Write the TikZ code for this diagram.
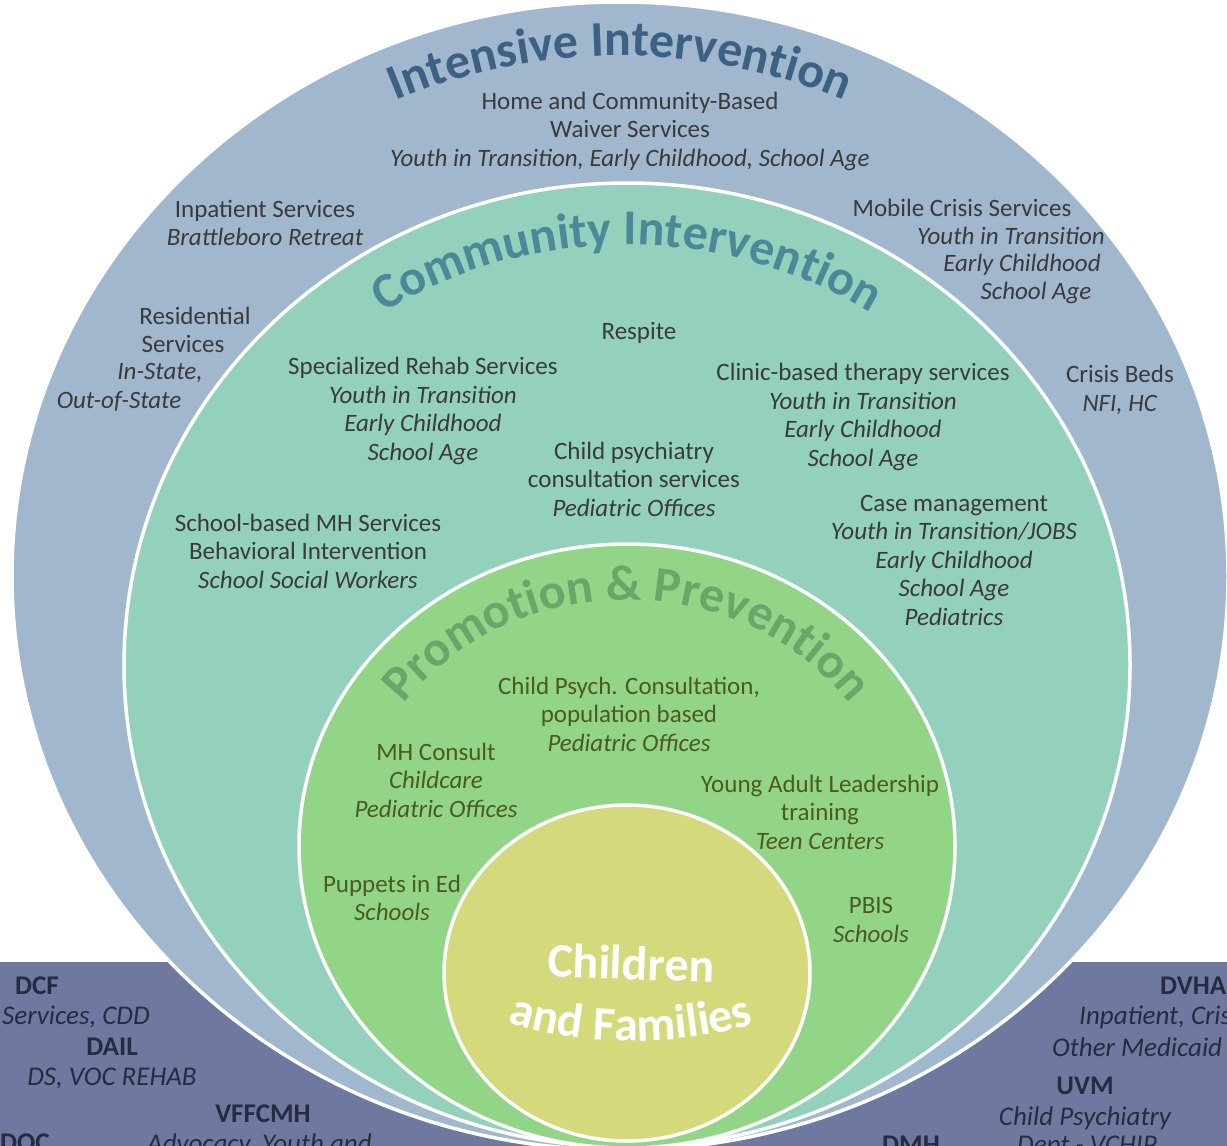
\documentclass[tikz,border=0pt]{standalone}
\usepackage{fontspec}
\setmainfont{Carlito}
\usetikzlibrary{decorations.text}
\definecolor{bandc}{HTML}{6F789F}
\definecolor{outerc}{HTML}{A1B7CE}
\definecolor{commc}{HTML}{93D1BC}
\definecolor{promc}{HTML}{92D587}
\definecolor{childc}{HTML}{D4DA7C}
\definecolor{txtc}{HTML}{3A3A3A}
\definecolor{greentxt}{HTML}{4B5A22}
\definecolor{bandtxt}{HTML}{262B40}
\definecolor{intc}{HTML}{3D6184}
\definecolor{comtc}{HTML}{4C8898}
\definecolor{promtc}{HTML}{6AA56A}
\begin{document}
\begin{tikzpicture}[x=1pt,y=-1pt,
 ring/.style={draw=white, line width=3.5pt},
 lbl/.style={inner sep=0pt, align=center, text=txtc, font=\fontsize{25}{28.5}\selectfont},
 lbli/.style={lbl, font=\fontsize{25}{28.5}\selectfont\itshape},
 glbl/.style={lbl, text=greentxt},
 blbl/.style={inner sep=0pt, text=bandtxt, font=\fontsize{27}{31}\selectfont\bfseries},
 blbli/.style={inner sep=0pt, text=bandtxt, font=\fontsize{27}{31}\selectfont\itshape},
]
\useasboundingbox (0,0) rectangle (1227,1146);
\begin{scope}
\clip (0,0) rectangle (1227,1146);
\fill[white] (0,0) rectangle (1227,1146);
\fill[bandc] (0,962) rectangle (1227,1160);
\draw[ring, fill=outerc] (620,576) ellipse [x radius=608pt, y radius=574pt];
\draw[ring, fill=commc] (627,665) ellipse [x radius=503pt, y radius=482pt];
\draw[ring, fill=promc] (627,846) ellipse [x radius=328pt, y radius=302pt];
\draw[ring, fill=childc] (627,973) ellipse [x radius=183pt, y radius=168pt];

% titles
\path[decorate, decoration={text along path, text align=center,
  text={|\fontsize{50}{50}\selectfont\bfseries\color{intc}|Intensive Intervention}}]
  (620,576) ++(165:553pt and 520pt) arc[start angle=165, end angle=15, x radius=553pt, y radius=520pt];
\path[decorate, decoration={text along path, text align=center,
  text={|\fontsize{50}{50}\selectfont\bfseries\color{comtc}|Community Intervention}}]
  (627,665) ++(170:447pt and 420pt) arc[start angle=170, end angle=10, x radius=447pt, y radius=420pt];
\path[decorate, decoration={text along path, text align=center,
  text={|\fontsize{50}{50}\selectfont\bfseries\color{promtc}|Promotion {\&} Prevention}}]
  (627,846) ++(180:273pt and 246pt) arc[start angle=180, end angle=0, x radius=273pt, y radius=246pt];

\node[inner sep=0pt, font=\fontsize{48}{48}\selectfont\bfseries, text=white, rotate=-2] (children) at (631,963) {Children};
\path[decorate, decoration={text along path, text align=center,
  text={|\fontsize{48}{48}\selectfont\bfseries\color{white}|and Families}}]
  (498,1018) .. controls (570,1048) and (690,1048) .. (764,1020);

% intensive ring
\node[lbl] (hcbs) at (630,131) {Home and Community-Based\\Waiver Services\\\textit{Youth in Transition, Early Childhood, School Age}};
\node[lbl] (inpat) at (265,223) {Inpatient Services\\\textit{Brattleboro Retreat}};
\node[lbl] (mob1) at (962,208) {Mobile Crisis Services};
\node[lbli] (mob2) at (1011,236) {Youth in Transition};
\node[lbli] (mob3) at (1022,265) {Early Childhood};
\node[lbli] (mob4) at (1036,293) {School Age};
\node[lbl] (res1) at (195,316) {Residential};
\node[lbl] (res2) at (183,344) {Services};
\node[lbli] (res3) at (160,373) {In-State,};
\node[lbli] (res4) at (119,401) {Out-of-State};
\node[lbl] (beds) at (1120,390) {Crisis Beds\\\textit{NFI, HC}};

% community ring
\node[lbl] (respite) at (639,333) {Respite};
\node[lbl] (rehab) at (423,411) {Specialized Rehab Services\\\textit{Youth in Transition}\\\textit{Early Childhood}\\\textit{School Age}};
\node[lbl] (clinic) at (863,417) {Clinic-based therapy services\\\textit{Youth in Transition}\\\textit{Early Childhood}\\\textit{School Age}};
\node[lbl] (cpsy) at (634,479) {Child psychiatry\\consultation services\\\textit{Pediatric Offices}};
\node[lbl] (case) at (954,560) {Case management\\\textit{Youth in Transition/JOBS}\\\textit{Early Childhood}\\\textit{School Age}\\\textit{Pediatrics}};
\node[lbl] (school) at (308,551) {School-based MH Services\\Behavioral Intervention\\\textit{School Social Workers}};

% promotion ring
\node[glbl] (cpc) at (629,714) {Child Psych. Consultation,\\population based\\\textit{Pediatric Offices}};
\node[glbl] (mhc) at (436,780) {MH Consult\\\textit{Childcare}\\\textit{Pediatric Offices}};
\node[glbl] (yal) at (820,812) {Young Adult Leadership\\training\\\textit{Teen Centers}};
\node[glbl] (pup) at (392,898) {Puppets in Ed\\\textit{Schools}};
\node[glbl] (pbis) at (871,920) {PBIS\\\textit{Schools}};

% band texts
\node[blbl] (dcf) at (37,986) {DCF};
\node[blbli, anchor=west] (dcfs) at (2,1017) {Services, CDD};
\node[blbl] (dail) at (112,1047) {DAIL};
\node[blbli] (dails) at (112,1078) {DS, VOC REHAB};
\node[blbl] (vff) at (263,1114) {VFFCMH};
\node[blbl, anchor=base west] (doc) at (0,1151) {DOC};
\node[blbli, anchor=base west] (vffs) at (147,1152) {Advocacy, Youth and};
\node[blbl, anchor=west] (dvha) at (1160,986) {DVHA};
\node[blbli, anchor=west] (dvha1) at (1079,1017) {Inpatient, Crisis};
\node[blbli, anchor=west] (dvha2) at (1052,1047) {Other Medicaid};
\node[blbl] (uvm) at (1085,1086) {UVM};
\node[blbli] (uvms) at (1085,1118) {Child Psychiatry};
\node[blbl, anchor=base west] (dmh) at (882,1153) {DMH};
\node[blbli, anchor=base west] (uvm2) at (1017,1153) {Dept - VCHIP};
\end{scope}
\end{tikzpicture}
\end{document}
